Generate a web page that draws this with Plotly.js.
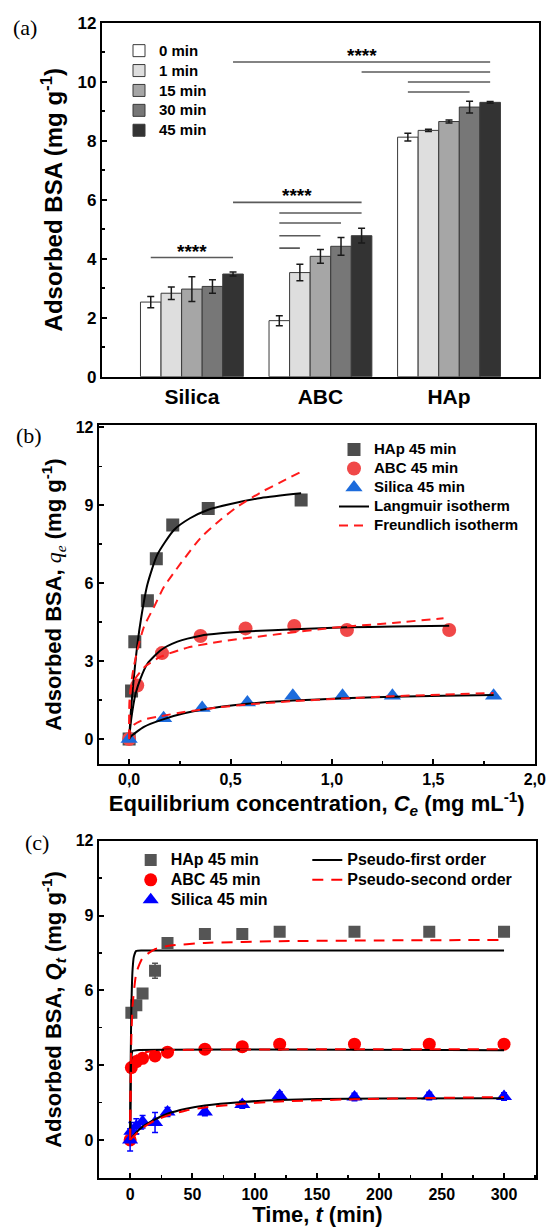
<!DOCTYPE html>
<html><head><meta charset="utf-8">
<script src="https://cdn.plot.ly/plotly-3.0.1.min.js"></script>
<style>html,body{margin:0;padding:0;background:#fff}#chart{width:547px;height:1227px}</style>
</head><body><div id="chart"></div>
<script>
// ---------- Panel (a): adsorbed BSA by material and time ----------
const materials = ['Silica', 'ABC', 'HAp'];
const timeLabels = ['0 min', '1 min', '15 min', '30 min', '45 min'];
const ads0  = [2.53, 1.90, 8.12];
const ads1  = [2.83, 3.53, 8.35];
const ads15 = [2.97, 4.08, 8.65];
const ads30 = [3.06, 4.42, 9.14];
const ads45 = [3.48, 4.78, 9.30];
const err0  = [0.19, 0.17, 0.13];
const err1  = [0.21, 0.28, 0.04];
const err15 = [0.42, 0.23, 0.05];
const err30 = [0.23, 0.30, 0.20];
const err45 = [0.07, 0.25, 0.03];
// significance brackets: [group from, bar from, group to, bar to, level]
const sigBrackets = [
  [0, 0, 0, 4, 4.04],
  [0, 4, 1, 4, 5.91],
  [1, 0, 1, 4, 5.55],
  [1, 0, 1, 3, 5.21],
  [1, 0, 1, 2, 4.78],
  [1, 0, 1, 1, 4.36],
  [0, 4, 2, 4, 10.67],
  [1, 4, 2, 4, 10.33],
  [2, 0, 2, 4, 9.99],
  [2, 0, 2, 3, 9.65]
];
const sigStarBrackets = [0, 1, 6];
const sigText = '****';

// ---------- Panel (b): isotherms ----------
const seriesNames = ['HAp 45 min', 'ABC 45 min', 'Silica 45 min'];
const ceHAp = [0, 0.012, 0.028, 0.09, 0.134, 0.215, 0.39, 0.848];
const qeHAp = [0, 1.85, 3.75, 5.32, 6.94, 8.24, 8.88, 9.20];
const ceABC = [0, 0.040, 0.162, 0.352, 0.574, 0.814, 1.074, 1.578];
const qeABC = [0, 2.06, 3.31, 3.97, 4.26, 4.35, 4.20, 4.20];
const ceSil = [0, 0.170, 0.360, 0.583, 0.807, 1.052, 1.298, 1.797];
const qeSil = [0, 0.80, 1.20, 1.41, 1.67, 1.67, 1.67, 1.67];
const langCeHAp = [0, 0.008, 0.02, 0.04, 0.06, 0.09, 0.139, 0.221, 0.30, 0.387, 0.50, 0.65, 0.848];
const langQeHAp = [0, 1.0, 2.1, 3.6, 4.7, 5.95, 7.1, 8.05, 8.5, 8.82, 9.05, 9.28, 9.46];
const freCeHAp = [0, 0.003, 0.01, 0.02, 0.04, 0.073, 0.123, 0.172, 0.255, 0.353, 0.452, 0.535, 0.65, 0.75, 0.848];
const freQeHAp = [0, 1.4, 2.1, 2.65, 3.4, 4.32, 5.09, 5.86, 6.77, 7.75, 8.45, 8.95, 9.5, 9.9, 10.29];
const langCeABC = [0, 0.01, 0.032, 0.057, 0.09, 0.156, 0.238, 0.353, 0.452, 0.60, 0.814, 1.074, 1.30, 1.578];
const langQeABC = [0, 0.75, 1.75, 2.35, 2.9, 3.42, 3.75, 3.98, 4.07, 4.15, 4.23, 4.30, 4.33, 4.36];
const freCeABC = [0, 0.003, 0.01, 0.032, 0.08, 0.156, 0.288, 0.452, 0.75, 1.0, 1.3, 1.55];
const freQeABC = [0, 1.6, 2.0, 2.35, 2.8, 3.17, 3.52, 3.76, 4.05, 4.28, 4.47, 4.65];
const langCeSil = [0, 0.007, 0.073, 0.156, 0.271, 0.452, 0.583, 0.807, 1.052, 1.298, 1.55, 1.797];
const langQeSil = [0, 0.09, 0.47, 0.73, 0.99, 1.24, 1.36, 1.48, 1.57, 1.63, 1.67, 1.70];
const freCeSil = [0, 0.005, 0.024, 0.073, 0.156, 0.271, 0.452, 0.583, 0.807, 1.052, 1.298, 1.797];
const freQeSil = [0, 0.30, 0.55, 0.75, 0.88, 1.04, 1.23, 1.33, 1.46, 1.56, 1.65, 1.77];

// ---------- Panel (c): kinetics ----------
const tHAp = [1, 5, 10, 20, 30, 60, 90, 120, 180, 240, 300];
const qtHAp = [5.10, 5.40, 5.87, 6.78, 7.90, 8.26, 8.26, 8.35, 8.35, 8.35, 8.35];
const eHAp = [0.20, 0.15, 0.10, 0.30, 0.15, 0.08, 0.08, 0.06, 0.06, 0.06, 0.06];
const tABC = [0, 1, 5, 10, 20, 30, 60, 90, 120, 180, 240, 300];
const qtABC = [0, 2.90, 3.14, 3.27, 3.37, 3.52, 3.64, 3.74, 3.84, 3.84, 3.84, 3.84];
const eABC = [0.10, 0.10, 0.08, 0.08, 0.08, 0.08, 0.06, 0.06, 0.06, 0.06, 0.06, 0.06];
const tSil = [0, 1, 5, 10, 20, 30, 60, 90, 120, 180, 240, 300];
const qtSil = [0, 0.35, 0.55, 0.73, 0.70, 1.12, 1.12, 1.42, 1.78, 1.72, 1.76, 1.74];
const eSil = [0.45, 0.35, 0.30, 0.25, 0.40, 0.18, 0.15, 0.15, 0.15, 0.15, 0.15, 0.15];
const pfoTHAp = [0, 0.5, 1, 2, 3, 5, 10, 300];
const pfoQHAp = [0, 3.3, 5.3, 6.85, 7.35, 7.58, 7.60, 7.60];
const psoTHAp = [0, 0.5, 1, 2, 5, 10, 20, 30, 60, 120, 200, 300];
const psoQHAp = [0, 2.6, 4.1, 5.4, 6.7, 7.3, 7.65, 7.78, 7.90, 7.97, 8.00, 8.02];
const pfoTABC = [0, 0.5, 1, 2, 5, 300];
const pfoQABC = [0, 2.5, 3.3, 3.57, 3.60, 3.60];
const psoTABC = [0, 0.5, 1, 2, 5, 10, 20, 30, 60, 120, 200, 300];
const psoQABC = [0, 2.3, 2.85, 3.15, 3.38, 3.50, 3.57, 3.60, 3.62, 3.63, 3.64, 3.64];
const pfoTSil = [0, 5, 10, 20, 30, 45, 60, 90, 120, 150, 200, 300];
const pfoQSil = [0, 0.30, 0.53, 0.82, 1.05, 1.25, 1.38, 1.52, 1.60, 1.64, 1.66, 1.67];
const psoTSil = [0, 5, 10, 20, 30, 45, 60, 90, 120, 180, 240, 300];
const psoQSil = [0, 0.25, 0.48, 0.78, 0.98, 1.18, 1.30, 1.45, 1.54, 1.63, 1.68, 1.72];

// ---------- styling ----------
const W = 547, H = 1227;
const px = v => v / W;
const py = v => 1 - v / H;
const SANS = 'Liberation Sans, Arial, sans-serif';
const SERIF = 'Liberation Serif, Times New Roman, serif';
const big = (s, size) => '<span style="font-size:' + size + 'px">' + s + '</span>';
const barColors = ['#ffffff', '#dedede', '#a6a6a6', '#777777', '#333333'];
const barVals = [ads0, ads1, ads15, ads30, ads45];
const barErrs = [err0, err1, err15, err30, err45];
const BARGAP = 0.2;
const slot = (1 - BARGAP) / timeLabels.length;
const barPos = (g, b) => g + (b - (timeLabels.length - 1) / 2) * slot;

const traces = [];
timeLabels.forEach((lab, i) => {
  traces.push({
    type: 'bar', name: big(lab, 15), x: materials, y: barVals[i],
    xaxis: 'x', yaxis: 'y', legend: 'legend',
    marker: {color: barColors[i], line: {color: '#3a3a3a', width: 1}},
    error_y: {type: 'data', array: barErrs[i], visible: true, color: '#1a1a1a', thickness: 1.5, width: 3.5}
  });
});

const colB = {hap: '#4d4d4d', abc: '#f04848', sil: '#1c6bdc'};
traces.push({type: 'scatter', mode: 'markers', name: big(seriesNames[0], 15), x: ceHAp, y: qeHAp, xaxis: 'x2', yaxis: 'y2', legend: 'legend2',
  marker: {symbol: 'square', size: 13, color: colB.hap}});
traces.push({type: 'scatter', mode: 'markers', name: big(seriesNames[1], 15), x: ceABC, y: qeABC, xaxis: 'x2', yaxis: 'y2', legend: 'legend2',
  marker: {symbol: 'circle', size: 14, color: colB.abc}});
traces.push({type: 'scatter', mode: 'markers', name: big(seriesNames[2], 15), x: ceSil, y: qeSil, xaxis: 'x2', yaxis: 'y2', legend: 'legend2',
  marker: {symbol: 'triangle-up', size: 15, color: colB.sil}});
const lineB = (name, x, y, dash, color, show) => ({type: 'scatter', mode: 'lines', name: big(name, 15), x, y, xaxis: 'x2', yaxis: 'y2', legend: 'legend2',
  showlegend: show, legendgroup: name, line: {color, width: 2, dash, shape: 'spline', smoothing: 0.6}});
traces.push(lineB('Langmuir isotherm', langCeHAp, langQeHAp, 'solid', '#000000', true));
traces.push(lineB('Langmuir isotherm', langCeABC, langQeABC, 'solid', '#000000', false));
traces.push(lineB('Langmuir isotherm', langCeSil, langQeSil, 'solid', '#000000', false));
traces.push(lineB('Freundlich isotherm', freCeHAp, freQeHAp, '9px,6px', '#ff1a1a', true));
traces.push(lineB('Freundlich isotherm', freCeABC, freQeABC, '9px,6px', '#ff1a1a', false));
traces.push(lineB('Freundlich isotherm', freCeSil, freQeSil, '9px,6px', '#ff1a1a', false));

const colC = {hap: '#555555', abc: '#ff0000', sil: '#0000ff'};
const ptsC = (name, x, y, e, sym, size, color) => ({type: 'scatter', mode: 'markers', name: big(name, 16), x, y, xaxis: 'x3', yaxis: 'y3', legend: 'legend3',
  marker: {symbol: sym, size, color}, error_y: {type: 'data', array: e, visible: true, color, thickness: 1.5, width: 3}});
traces.push(ptsC(seriesNames[0], tHAp, qtHAp, eHAp, 'square', 12, colC.hap));
traces.push(ptsC(seriesNames[1], tABC, qtABC, eABC, 'circle', 13, colC.abc));
traces.push(ptsC(seriesNames[2], tSil, qtSil, eSil, 'triangle-up', 14, colC.sil));
const lineC = (name, x, y, dash, color, show) => ({type: 'scatter', mode: 'lines', name: big(name, 16), x, y, xaxis: 'x3', yaxis: 'y3', legend: 'legend4',
  showlegend: show, legendgroup: name, line: {color, width: 2, dash, shape: 'spline', smoothing: 0.5}});
traces.push(lineC('Pseudo-first order', pfoTHAp, pfoQHAp, 'solid', '#000000', true));
traces.push(lineC('Pseudo-first order', pfoTABC, pfoQABC, 'solid', '#000000', false));
traces.push(lineC('Pseudo-first order', pfoTSil, pfoQSil, 'solid', '#000000', false));
traces.push(lineC('Pseudo-second order', psoTHAp, psoQHAp, '11px,8px', '#ff0000', true));
traces.push(lineC('Pseudo-second order', psoTABC, psoQABC, '11px,8px', '#ff0000', false));
traces.push(lineC('Pseudo-second order', psoTSil, psoQSil, '11px,8px', '#ff0000', false));

const frame = {showline: true, mirror: true, linecolor: '#000', linewidth: 2, showgrid: false, zeroline: false,
  ticks: 'inside', ticklen: 5, tickwidth: 2, tickcolor: '#000'};
const tf = size => ({family: SANS, size, color: '#000', weight: 'bold'});

const shapes = sigBrackets.map(b => ({type: 'line', xref: 'x', yref: 'y',
  x0: barPos(b[0], b[1]), x1: barPos(b[2], b[3]), y0: b[4], y1: b[4],
  line: {color: '#5a5a5a', width: 1.6}}));
const annotations = sigStarBrackets.map(k => {
  const b = sigBrackets[k];
  return {xref: 'x', yref: 'y', x: (barPos(b[0], b[1]) + barPos(b[2], b[3])) / 2, y: b[4],
    yanchor: 'bottom', yshift: -6, text: sigText, showarrow: false, font: tf(19)};
});
[['(a)', 24.7, 27.5], ['(b)', 29.3, 435], ['(c)', 36.6, 842]].forEach(p => annotations.push({
  xref: 'paper', yref: 'paper', x: px(p[1]), y: py(p[2]), xanchor: 'center', yanchor: 'middle',
  text: p[0], showarrow: false, font: {family: SERIF, size: 22, color: '#000', weight: 'normal'}}));

const legBase = {xanchor: 'left', yanchor: 'top', bgcolor: 'rgba(0,0,0,0)', borderwidth: 0, tracegroupgap: 0};

const layout = {
  width: W, height: H, margin: {l: 0, r: 0, t: 0, b: 0},
  paper_bgcolor: '#fff', plot_bgcolor: '#fff',
  font: {family: SANS, size: 16, color: '#000', weight: 'bold'},
  separators: ',.',
  barmode: 'group', bargap: BARGAP, bargroupgap: 0,
  xaxis: Object.assign({}, frame, {domain: [px(101.9), px(539)], anchor: 'y', type: 'category',
    categoryarray: materials, range: [-0.7, 2.7], ticks: '', tickfont: tf(21)}),
  yaxis: Object.assign({}, frame, {domain: [py(376.7), py(22.7)], anchor: 'x', range: [0, 12], dtick: 2,
    tickfont: tf(17), minor: {dtick: 1, ticks: 'inside', ticklen: 3, tickwidth: 1.5, tickcolor: '#000'},
    title: {text: 'Adsorbed BSA (mg g<sup>-1</sup>)', font: tf(24), standoff: 8}}),
  xaxis2: Object.assign({}, frame, {domain: [px(98.7), px(534.8)], anchor: 'y2', range: [-0.15, 2.0], dtick: 0.5,
    tickformat: '.1f', tickfont: tf(16), minor: {dtick: 0.25, ticks: 'inside', ticklen: 3, tickwidth: 1.5, tickcolor: '#000'},
    title: {text: 'Equilibrium concentration, <i>C<sub>e</sub></i> (mg mL<sup>-1</sup>)', font: tf(22), standoff: 4}}),
  yaxis2: Object.assign({}, frame, {domain: [py(764), py(425)], anchor: 'x2', range: [-0.96, 12.09], tick0: 0, dtick: 3,
    tickfont: tf(16), minor: {dtick: 1.5, ticks: 'inside', ticklen: 3, tickwidth: 1.5, tickcolor: '#000'},
    title: {text: "Adsorbed BSA, <span style=\"font-family:'Liberation Serif';font-weight:normal\"><i>q<sub>e</sub></i></span> (mg g<sup>-1</sup>)", font: tf(22), standoff: 8}}),
  xaxis3: Object.assign({}, frame, {domain: [px(98.7), px(536.2)], anchor: 'y3', range: [-25.2, 325.8], dtick: 50,
    tickfont: tf(16), minor: {dtick: 25, ticks: 'inside', ticklen: 3, tickwidth: 1.5, tickcolor: '#000'},
    title: {text: 'Time, <i>t</i> (min)', font: tf(22), standoff: 4}}),
  yaxis3: Object.assign({}, frame, {domain: [py(1178.3), py(840.7)], anchor: 'x3', range: [-1.54, 12], tick0: 0, dtick: 3,
    tickfont: tf(16), minor: {dtick: 1.5, ticks: 'inside', ticklen: 3, tickwidth: 1.5, tickcolor: '#000'},
    title: {text: 'Adsorbed BSA, <i>Q<sub>t</sub></i> (mg g<sup>-1</sup>)', font: tf(22), standoff: 8}}),
  legend: Object.assign({}, legBase, {x: px(119), y: py(35.7), font: tf(13)}),
  legend2: Object.assign({}, legBase, {x: px(334), y: py(435), font: tf(12)}),
  legend3: Object.assign({}, legBase, {x: px(130.7), y: py(845), font: tf(13)}),
  legend4: Object.assign({}, legBase, {x: px(307.3), y: py(845), font: tf(13)}),
  shapes, annotations
};

Plotly.newPlot('chart', traces, layout, {staticPlot: true, displayModeBar: false});
</script></body></html>
